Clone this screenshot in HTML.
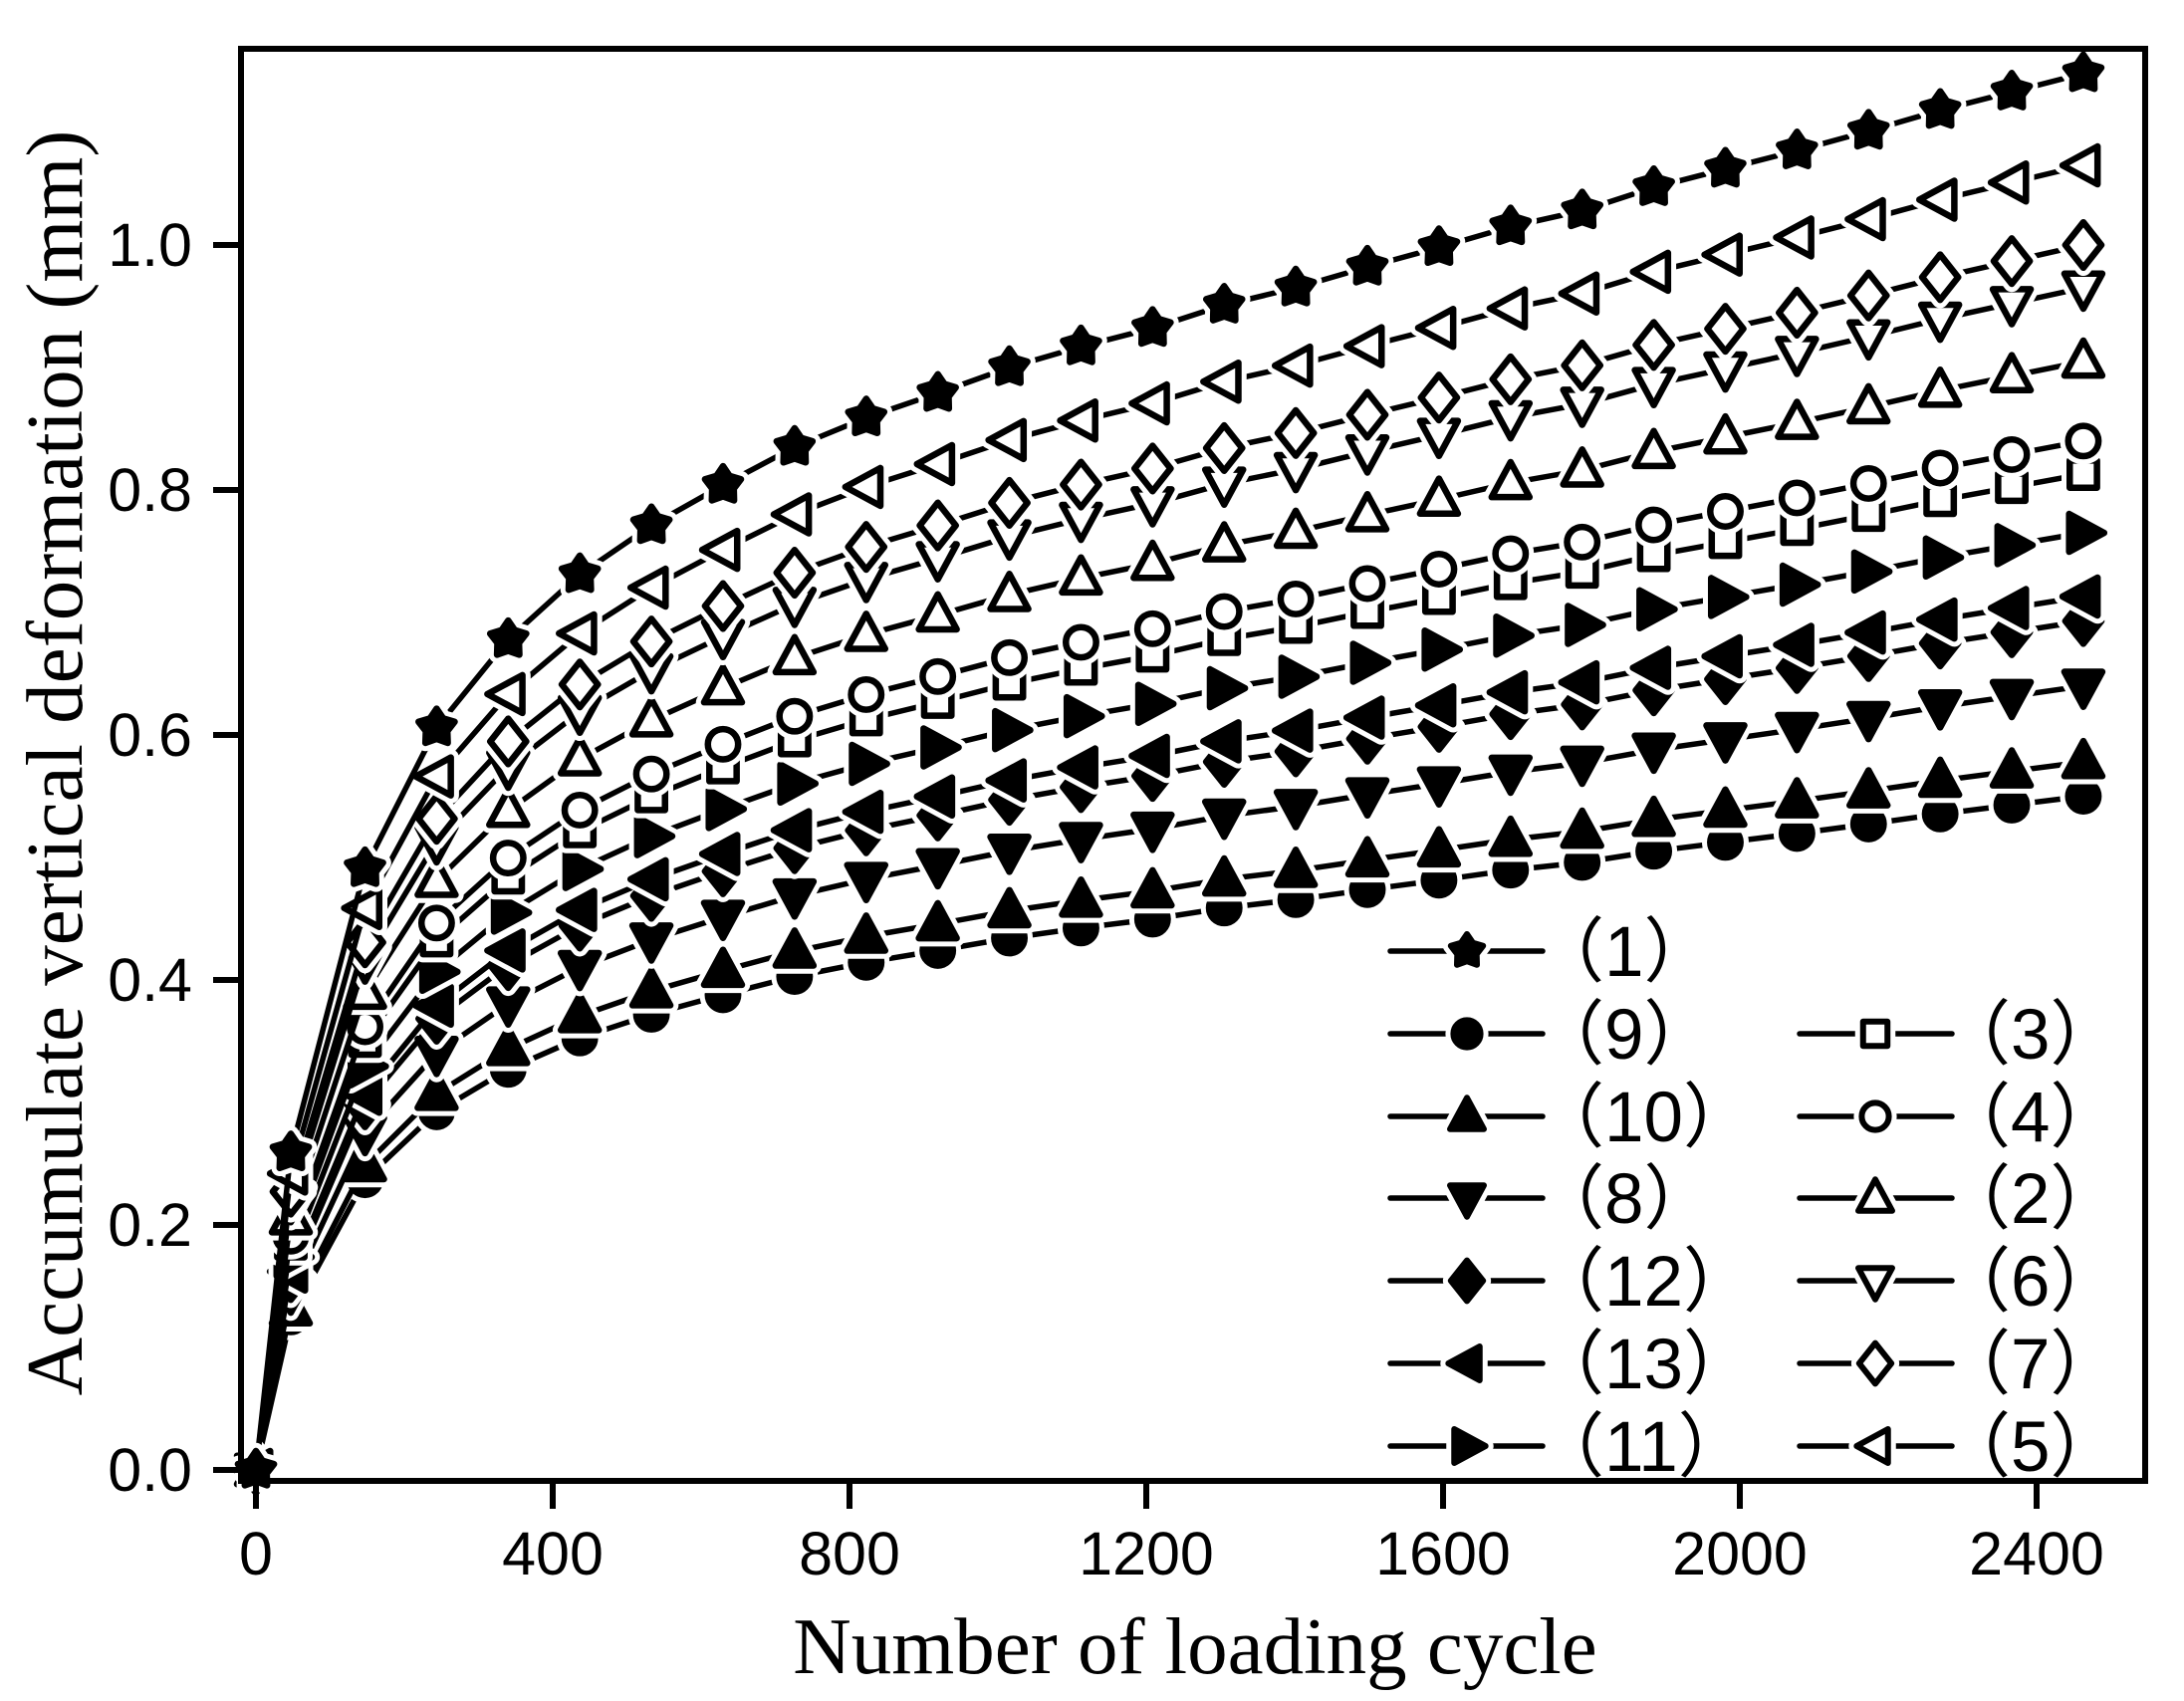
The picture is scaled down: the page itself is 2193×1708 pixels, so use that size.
<!DOCTYPE html>
<html><head><meta charset="utf-8"><style>
html,body{margin:0;padding:0;background:#fff;}
svg{display:block;}
.t{font-family:"Liberation Sans",sans-serif;font-size:61px;fill:#000;}
.lg{font-family:"Liberation Sans","Noto Sans CJK SC",sans-serif;font-size:71px;fill:#000;}
.ti{font-family:"Liberation Serif",serif;font-size:81px;fill:#000;}
</style></head><body>
<svg id="s" width="2193" height="1708" viewBox="0 0 2193 1708" xmlns="http://www.w3.org/2000/svg">
<rect width="2193" height="1708" fill="#fff"/>
<g id="data"></g>
<rect x="242" y="49" width="1912" height="1438" fill="none" stroke="#000" stroke-width="6"/>
<g stroke="#000" stroke-width="6">
<line x1="257" y1="1487" x2="257" y2="1515"/><line x1="555" y1="1487" x2="555" y2="1515"/>
<line x1="853" y1="1487" x2="853" y2="1515"/><line x1="1151" y1="1487" x2="1151" y2="1515"/>
<line x1="1449" y1="1487" x2="1449" y2="1515"/><line x1="1747" y1="1487" x2="1747" y2="1515"/>
<line x1="2045" y1="1487" x2="2045" y2="1515"/>
<line x1="214" y1="1476" x2="242" y2="1476"/><line x1="214" y1="1230" x2="242" y2="1230"/>
<line x1="214" y1="984" x2="242" y2="984"/><line x1="214" y1="738" x2="242" y2="738"/>
<line x1="214" y1="492" x2="242" y2="492"/><line x1="214" y1="246" x2="242" y2="246"/>
</g>
<g class="t" text-anchor="middle">
<text x="257" y="1581">0</text><text x="555" y="1581">400</text><text x="853" y="1581">800</text>
<text x="1151" y="1581">1200</text><text x="1449" y="1581">1600</text><text x="1747" y="1581">2000</text>
<text x="2045" y="1581">2400</text>
</g>
<g class="t" text-anchor="end">
<text x="193" y="1497">0.0</text><text x="193" y="1251">0.2</text><text x="193" y="1005">0.4</text>
<text x="193" y="759">0.6</text><text x="193" y="513">0.8</text><text x="193" y="267">1.0</text>
</g>
<text class="ti" x="1200" y="1680" text-anchor="middle">Number of loading cycle</text>
<text class="ti" transform="translate(82,766) rotate(-90)" text-anchor="middle">Accumulate vertical deformation (mm)</text>
<g id="leg"></g>
<g class="lg">
<text x="1540" y="980">（1）</text>
<text x="1540" y="1063">（9）</text>
<text x="1540" y="1146">（10）</text>
<text x="1540" y="1228">（8）</text>
<text x="1540" y="1311">（12）</text>
<text x="1540" y="1394">（13）</text>
<text x="1540" y="1477">（11）</text>
<text x="1948" y="1063">（3）</text>
<text x="1948" y="1146">（4）</text>
<text x="1948" y="1228">（2）</text>
<text x="1948" y="1311">（6）</text>
<text x="1948" y="1394">（7）</text>
<text x="1948" y="1477">（5）</text>
</g>
</svg>
<script>
var NS="http://www.w3.org/2000/svg";
var s1=[0,0.259,0.491,0.606,0.678,0.731,0.771,0.804,0.835,0.859,0.879,0.9,0.917,0.932,0.951,0.965,0.982,0.998,1.015,1.028,1.047,1.062,1.077,1.093,1.11,1.125,1.14];
var Ns=[0,47];for(var k=0;k<25;k++)Ns.push(147+96.5*k);
function px(n){return 257+n*0.745;}function py(v){return 1476-v*1230;}
var series=[
["star",1.14,1],["ltri",1.065,0],["dia",1.0,0],["dtri",0.965,0],["utri",0.905,0],
["circ",0.84,0],["sq",0.813,0],["rtri",0.765,1],["ltri",0.713,1],["dia",0.693,1],
["dtri",0.64,1],["utri",0.578,1],["circ",0.55,1]];
function shape(t,x,y,r){
 var d;
 if(t=="circ"){r*=0.8;return {c:1,x:x,y:y,r:r};}
 if(t=="sq"){r*=0.72;d="M"+(x-r)+","+(y-r)+"h"+2*r+"v"+2*r+"h"+(-2*r)+"z";}
 else if(t=="utri")d="M"+x+","+(y-r*1.1)+"L"+(x+r)+","+(y+r*0.75)+"L"+(x-r)+","+(y+r*0.75)+"z";
 else if(t=="dtri")d="M"+x+","+(y+r*1.1)+"L"+(x+r)+","+(y-r*0.75)+"L"+(x-r)+","+(y-r*0.75)+"z";
 else if(t=="ltri")d="M"+(x-r*1.1)+","+y+"L"+(x+r*0.75)+","+(y-r)+"L"+(x+r*0.75)+","+(y+r)+"z";
 else if(t=="rtri")d="M"+(x+r*1.1)+","+y+"L"+(x-r*0.75)+","+(y-r)+"L"+(x-r*0.75)+","+(y+r)+"z";
 else if(t=="dia")d="M"+x+","+(y-r*1.2)+"L"+(x+r*0.95)+","+y+"L"+x+","+(y+r*1.2)+"L"+(x-r*0.95)+","+y+"z";
 else if(t=="star"){d="";for(var i=0;i<10;i++){var a=-Math.PI/2+i*Math.PI/5;var rr=i%2?r*0.6:r;d+=(i?"L":"M")+(x+rr*Math.cos(a)).toFixed(1)+","+(y+rr*Math.sin(a)).toFixed(1);}d+="z";}
 return {d:d};
}
function addMarker(g,t,x,y,r,filled,sw){
 var o=shape(t,x,y,r);
 [["#fff",sw+10,"#fff"],["#000",sw,filled?"#000":"#fff"]].forEach(function(st){
  var e;
  if(o.c){e=document.createElementNS(NS,"circle");e.setAttribute("cx",o.x);e.setAttribute("cy",o.y);e.setAttribute("r",o.r);}
  else{e=document.createElementNS(NS,"path");e.setAttribute("d",o.d);}
  e.setAttribute("fill",st[2]);e.setAttribute("stroke",st[0]);e.setAttribute("stroke-width",st[1]);e.setAttribute("stroke-linejoin","round");
  g.appendChild(e);
 });
}
var g=document.getElementById("data");
series.slice().reverse().forEach(function(sr){
 var pts=[];for(var i=0;i<Ns.length;i++)pts.push([px(Ns[i]),py(sr[1]*s1[i]/1.14)]);
 var pl=document.createElementNS(NS,"polyline");
 pl.setAttribute("points",pts.map(function(p){return p[0].toFixed(1)+","+p[1].toFixed(1)}).join(" "));
 pl.setAttribute("fill","none");pl.setAttribute("stroke","#000");pl.setAttribute("stroke-width","5.5");pl.setAttribute("stroke-linejoin","round");
 g.appendChild(pl);
 pts.forEach(function(p){addMarker(g,sr[0],p[0],p[1],19,sr[2],6.5);});
});
var lg=document.getElementById("leg");
var leg=[["star",1,1396,1473,955],["circ",1,1396,1473,1038],["utri",1,1396,1473,1121],["dtri",1,1396,1473,1203],["dia",1,1396,1473,1286],["ltri",1,1396,1473,1369],["rtri",1,1396,1473,1452],
["sq",0,1807,1883,1038],["circ",0,1807,1883,1121],["utri",0,1807,1883,1203],["dtri",0,1807,1883,1286],["dia",0,1807,1883,1369],["ltri",0,1807,1883,1452]];
leg.forEach(function(l){
 var ln=document.createElementNS(NS,"line");
 ln.setAttribute("x1",l[2]);ln.setAttribute("x2",l[2]+153);ln.setAttribute("y1",l[4]);ln.setAttribute("y2",l[4]);
 ln.setAttribute("stroke","#000");ln.setAttribute("stroke-width","5.5");ln.setAttribute("stroke-linecap","round");
 lg.appendChild(ln);
 addMarker(lg,l[0],l[3],l[4],17,l[1],6);
});
</script>
</body></html>
